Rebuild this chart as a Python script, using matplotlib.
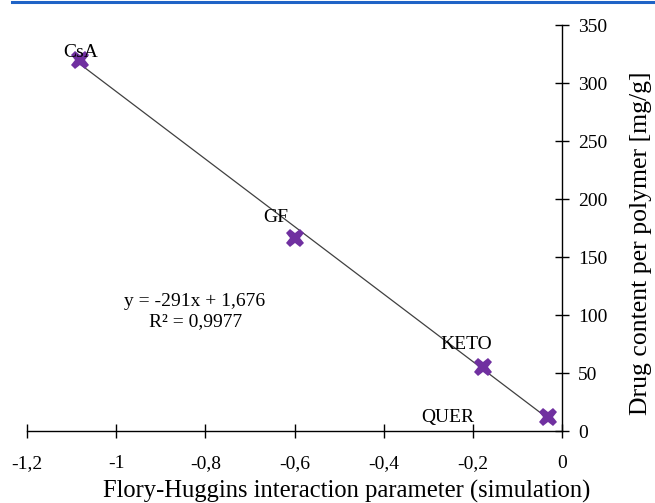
import matplotlib
matplotlib.use("Agg")
import matplotlib.pyplot as plt
import numpy as np

plt.rcParams['font.family'] = ['Liberation Serif', 'DejaVu Serif']

names = ["CsA", "GF", "KETO", "QUER"]
chi = [-1.08, -0.60, -0.177, -0.031]
content = [320, 166, 55, 12]
slope, intercept = -291, 1.676
xticks = [-1.2, -1.0, -0.8, -0.6, -0.4, -0.2, 0.0]
xticklabels = ["-1,2", "-1", "-0,8", "-0,6", "-0,4", "-0,2", "0"]
yticks = [0, 50, 100, 150, 200, 250, 300, 350]
eq_lines = ["y = -291x + 1,676", "R² = 0,9977"]

fig = plt.figure(figsize=(6.55, 5.03), dpi=100)
ax = fig.add_axes([27/655, 1-431/503, (562-27)/655, (431-25)/503])

xs = np.array([min(chi), max(chi)])
ax.plot(xs, slope*xs + intercept, color='#404040', lw=0.9, zorder=2)
ax.plot(chi, content, linestyle='none', marker='X', markersize=13,
        color='#7030A0', markeredgewidth=0, zorder=3)

label_off = {"CsA": (0, 5), "GF": (-13.3, 15), "KETO": (-12.2, 16.5), "QUER": (-72, 0)}
for n, x, y in zip(names, chi, content):
    ax.annotate(n, (x, y), xytext=label_off[n], textcoords='offset points',
                fontsize=14, ha='center', va='center', zorder=4)

ax.text(0.314, 0.318, eq_lines[0], transform=ax.transAxes, fontsize=14,
        ha='center', va='center')
ax.text(0.316, 0.2685, eq_lines[1], transform=ax.transAxes, fontsize=14,
        ha='center', va='center')

ax.set_xlim(-1.2, 0)
ax.set_ylim(0, 350)
ax.spines['top'].set_visible(False)
ax.spines['left'].set_visible(False)
ax.spines['right'].set_linewidth(1.0)
ax.spines['bottom'].set_linewidth(1.0)
ax.yaxis.tick_right()
ax.yaxis.set_label_position('right')
ax.set_xticks(xticks)
ax.set_xticklabels(xticklabels)
ax.set_yticks(yticks)
ax.tick_params(axis='both', direction='inout', length=10, width=1.0, labelsize=14)
ax.tick_params(axis='x', pad=12)
ax.tick_params(axis='y', pad=6.5)
ax.set_xlabel("Flory-Huggins interaction parameter (simulation)", fontsize=17.7)
ax.set_ylabel("Drug content per polymer [mg/g]", fontsize=18.5)
ax.xaxis.set_label_coords((347-27)/535, (431-491)/406)
ax.xaxis.label.set_va('center')
ax.yaxis.set_label_coords((641-27)/535, (431-243)/406)
ax.yaxis.label.set_va('center')
ax.yaxis.label.set_ha('center')

fig.add_artist(plt.Line2D([12/655, 1], [1-2/503, 1-2/503], color='#1F63C6', lw=2.2,
                          transform=fig.transFigure))

fig.savefig("out.png", dpi=100)
